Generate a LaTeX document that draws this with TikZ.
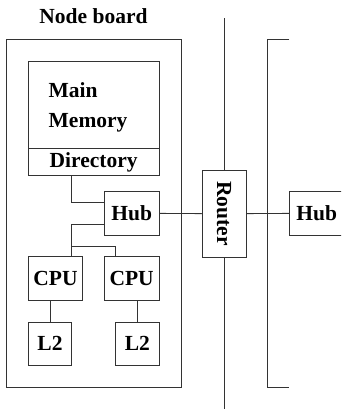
\documentclass[tikz,border=0pt]{standalone}
\usepackage{fontspec}
\setmainfont{Liberation Serif}
\usetikzlibrary{calc}
\begin{document}
\begin{tikzpicture}[x=1pt,y=-1pt,
  line/.style={draw=black!80,line width=0.8pt},
  box/.style={line,rectangle,inner sep=0pt,font=\fontsize{21.5}{25}\selectfont\bfseries},
  lbl/.style={inner sep=0pt,font=\fontsize{21.5}{25}\selectfont\bfseries}]
\useasboundingbox (0,0) rectangle (341,409);
\clip (0,0) rectangle (341,409);
% title
\node[lbl] (title) at (93.5,16) {Node board};
% board
\node[box,minimum width=174.3pt,minimum height=348.4pt] (board) at (93.85,213.5) {};
% memory + directory
\node[box,minimum width=130.7pt,minimum height=87.4pt] (mem) at (93.65,105) {};
\node[lbl,anchor=base west] (main) at (48.5,97.5) {Main};
\node[lbl,anchor=base west] (memory) at (48.5,127.5) {Memory};
\node[box,minimum width=130.7pt,minimum height=27pt] (dir) at (93.65,162.2) {Directory};
% hub, cpus, l2
\node[box,minimum width=54.7pt,minimum height=43.3pt] (hub) at (131.65,213.35) {Hub};
\node[box,minimum width=54.4pt,minimum height=43.3pt] (cpu1) at (55.5,278.35) {CPU};
\node[box,minimum width=54.7pt,minimum height=43.3pt] (cpu2) at (131.65,278.35) {CPU};
\node[box,minimum width=43.4pt,minimum height=43.7pt] (l2a) at (50,343.85) {L2};
\node[box,minimum width=43.4pt,minimum height=43.7pt] (l2b) at (137.35,343.85) {L2};
% router and remote hub
\node[box,minimum width=43.7pt,minimum height=87.3pt] (router) at (224.15,213.65) {};
\node[lbl,rotate=-90] (routertxt) at (router.center) {Router};
\node[box,minimum width=54.7pt,minimum height=43.3pt] (hub2) at (316.65,213.35) {Hub};
% connector coordinates
\coordinate (j) at (71.7,246);
\coordinate (rtop) at (224.15,18.3);
\coordinate (rbot) at (224.15,410);
\coordinate (bt) at (289.3,39.3);
\coordinate (bb) at (289.3,387.7);
\coordinate (bx) at (267.7,0);
% connectors
\draw[line] (dir.south -| j) |- ($(hub.north west)!0.25!(hub.south west)$);
\draw[line] ($(hub.north west)!0.75!(hub.south west)$) -| (j);
\draw[line] (j) -- (cpu1.north -| j);
\draw[line] (j) -| (l2b.west |- cpu2.north);
\draw[line] (l2a.north |- cpu1.south) -- (l2a.north);
\draw[line] (l2b.north |- cpu2.south) -- (l2b.north);
\draw[line] (hub.east) -- (router.west);
\draw[line] (router.east) -- (hub2.west);
\draw[line] (rtop) -- (router.north);
\draw[line] (router.south) -- (rbot);
\draw[line] (bt) -- (bt -| bx) -- (bb -| bx) -- (bb);
\end{tikzpicture}
\end{document}
